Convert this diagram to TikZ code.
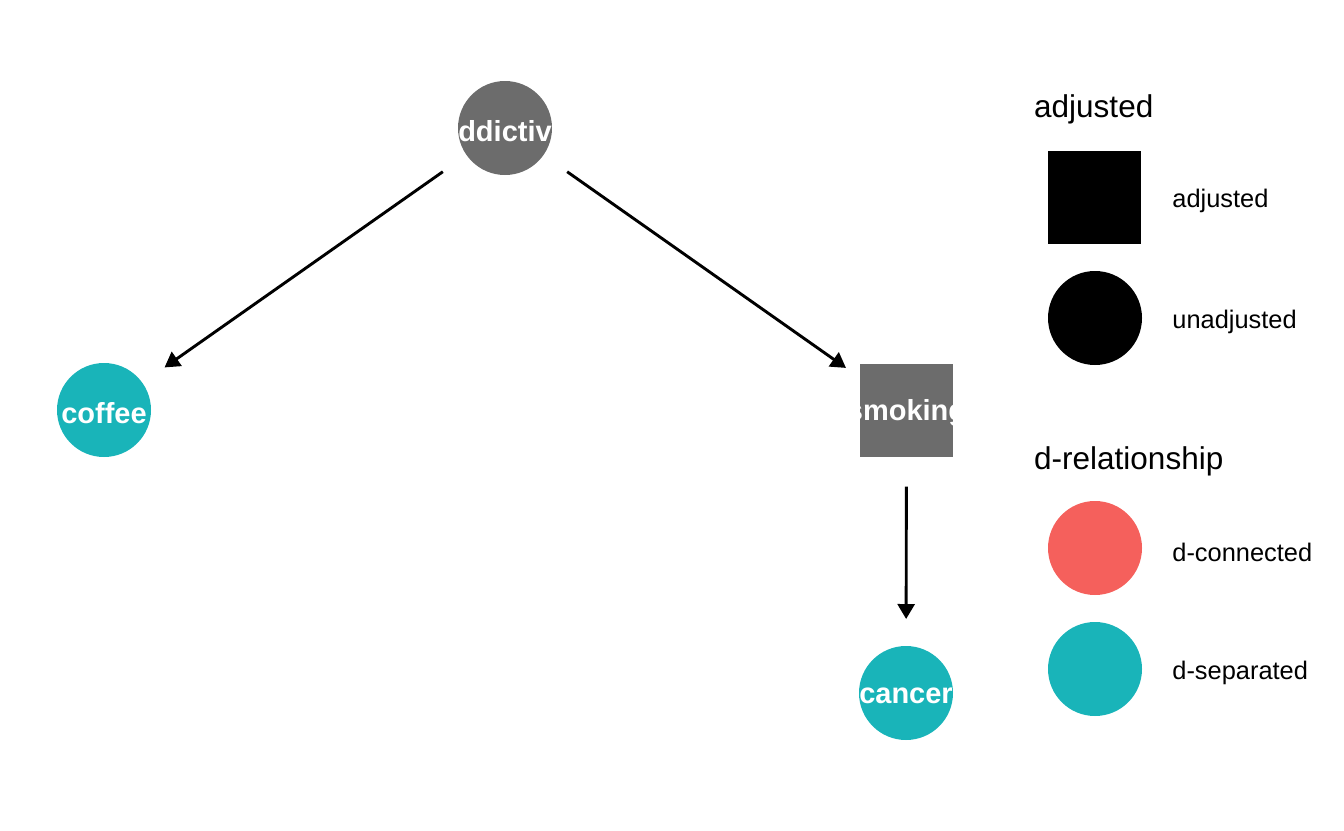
\documentclass[tikz,border=0pt]{standalone}
\usepackage{fontspec}
\setmainfont{Liberation Sans}
\usetikzlibrary{positioning, arrows.meta}
\definecolor{nodegrey}{RGB}{108,108,108}
\definecolor{dsep}{RGB}{25,180,185}
\definecolor{dconn}{RGB}{245,96,92}

\tikzset{
    dagnode/.style={circle, minimum size=94pt, inner sep=0pt},
    adjnode/.style={rectangle, minimum size=93pt, inner sep=0pt},
    nodetext/.style={text=white, inner sep=0pt, yshift=-3pt, font=\fontsize{29}{29}\selectfont\bfseries},
    edge/.style={line width=2.9pt, -{Triangle[length=15pt, width=17pt]}, shorten <=76pt, shorten >=74pt},
    legtitle/.style={anchor=base west, inner sep=0pt, font=\fontsize{31.5}{31.5}\selectfont},
    leglabel/.style={inner sep=0pt, font=\fontsize{25.4}{25.4}\selectfont}
}

\begin{document}
\begin{tikzpicture}[x=1pt, y=-1pt]
        \useasboundingbox (0,0) rectangle (1344,830);
        % dag
        \node[dagnode, fill=nodegrey, path picture={\node[nodetext] at (path picture bounding box.center) {addictive};}] (addictive) at (505,128) {};
        \node[dagnode, fill=dsep, path picture={\node[nodetext] at (path picture bounding box.center) {coffee};}] (coffee) at (104,410) {};
        \node[adjnode, fill=nodegrey, path picture={\node[nodetext] at (path picture bounding box.center) {smoking};}] (smoking) at (906.5,410.5) {};
        \node[dagnode, fill=dsep, path picture={\node[nodetext] at (path picture bounding box.center) {cancer};}] (cancer) at (906,693) {};
        \draw[edge] (addictive.center) -- (coffee.center);
        \draw[edge] (addictive.center) -- (smoking.center);
        \draw[edge] (smoking.center) -- (cancer.center);
        % legend
        \node[legtitle] (ttladj) at (1034,117) {adjusted};
        \node[adjnode, fill=black] (keyadj) at (1094.5,197) {};
        \node[leglabel, right=31pt of keyadj, yshift=-4pt] (lbladj) {adjusted};
        \node[dagnode, fill=black] (keyunadj) at (1095,318) {};
        \node[leglabel, right=30pt of keyunadj, yshift=-4pt] (lblunadj) {unadjusted};
        \node[legtitle] (ttlrel) at (1034,469) {d-relationship};
        \node[dagnode, fill=dconn] (keyconn) at (1095,548) {};
        \node[leglabel, right=30pt of keyconn, yshift=-4pt] (lblconn) {d-connected};
        \node[dagnode, fill=dsep] (keysep) at (1095,669) {};
        \node[leglabel, right=30pt of keysep, yshift=-4pt] (lblsep) {d-separated};
    \end{tikzpicture}
\end{document}
